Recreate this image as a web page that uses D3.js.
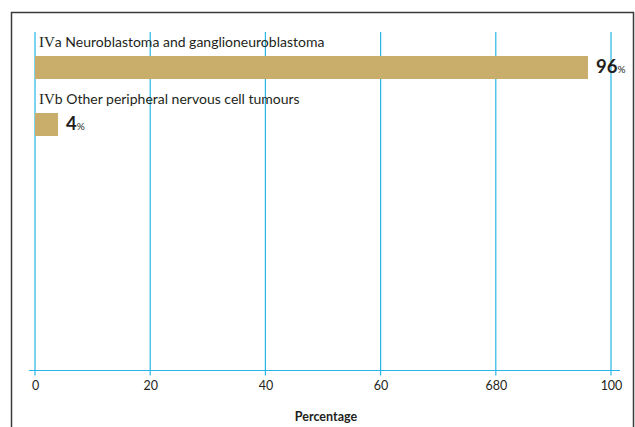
<!DOCTYPE html>
<html>
<head>
<meta charset="utf-8">
<script src="https://cdn.jsdelivr.net/npm/d3@7"></script>
<style>
  html, body { margin: 0; padding: 0; background: #fff; }
  svg { display: block; }
  text { font-family: Lato, "Open Sans", sans-serif; fill: #231f20; }
</style>
</head>
<body>
<svg id="chart" width="635" height="427"></svg>
<script>
// Tumour subgroups (Roman-numeral code + description) and their share in percent
const codes = ["IVa", "IVb"];
const descriptions = ["Neuroblastoma and ganglioneuroblastoma", "Other peripheral nervous cell tumours"];
const percentages = [96, 4];
const tickValues = [0, 20, 40, 60, 80, 100];
const tickLabels = ["0", "20", "40", "60", "680", "100"];
const axisTitle = "Percentage";

const svg = d3.select("#chart");

// Frame around the figure
svg.append("rect")
  .attr("x", 11.5).attr("y", 12.5)
  .attr("width", 622).attr("height", 430)
  .attr("fill", "none")
  .attr("stroke", "#3a3a3a")
  .attr("stroke-width", 1.5);

const x = d3.scaleLinear().domain([0, 100]).range([35, 611]);
const gridTop = 32, axisY = 370.5;

// Row layout: one band per category, label above the bar
const y = d3.scaleBand().domain(codes).range([31, 145]).paddingInner(0).paddingOuter(0);

// Vertical grid lines
svg.append("g").selectAll("line")
  .data(tickValues)
  .join("line")
  .attr("x1", d => x(d)).attr("x2", d => x(d))
  .attr("y1", gridTop).attr("y2", axisY + 5)
  .attr("stroke", "#27b6e8")
  .attr("stroke-width", 1.2);

// Baseline axis
const axis = d3.axisBottom(x)
  .tickValues(tickValues)
  .tickFormat((d, i) => tickLabels[i])
  .tickSize(0)
  .tickPadding(11);
const gAxis = svg.append("g").attr("transform", `translate(0,${axisY})`).call(axis);
gAxis.select(".domain").remove();
gAxis.selectAll("text")
  .style("font-family", "Lato, sans-serif")
  .style("font-size", "12.5px")
  .attr("fill", "#231f20");
svg.append("line")
  .attr("x1", 29).attr("x2", 620)
  .attr("y1", axisY).attr("y2", axisY)
  .attr("stroke", "#27b6e8").attr("stroke-width", 1.2);

// Bars
const rows = codes.map((c, i) => ({ code: c, desc: descriptions[i], value: percentages[i] }));
const barH = 23;

const row = svg.append("g").selectAll("g")
  .data(rows)
  .join("g")
  .attr("transform", d => `translate(0,${y(d.code)})`);

// Category label: Roman numeral code in a serif face, description in sans
const label = row.append("text")
  .attr("x", 39).attr("y", 15.5)
  .style("font-size", "14px");
label.append("tspan")
  .style("font-family", "'Liberation Serif', serif")
  .style("font-size", "15px")
  .text(d => d.code.replace(/[ab]$/, ""));
label.append("tspan")
  .text(d => d.code.slice(-1) + " " + d.desc);

row.append("rect")
  .attr("x", x(0))
  .attr("y", 25)
  .attr("width", d => x(d.value) - x(0))
  .attr("height", barH)
  .attr("fill", "#c9ad6b");

// Value labels
const val = row.append("text")
  .attr("x", d => x(d.value) + 8)
  .attr("y", 42)
  .style("font-weight", "bold");
val.append("tspan")
  .style("font-size", "18.5px")
  .text(d => d.value);
val.append("tspan")
  .style("font-size", "10px")
  .style("font-weight", "normal")
  .text("%");

// Axis title
svg.append("text")
  .attr("x", (x(0) + x(100)) / 2 + 3)
  .attr("y", 421)
  .attr("text-anchor", "middle")
  .style("font-size", "12.5px")
  .style("font-weight", "bold")
  .text(axisTitle);
</script>
</body>
</html>
